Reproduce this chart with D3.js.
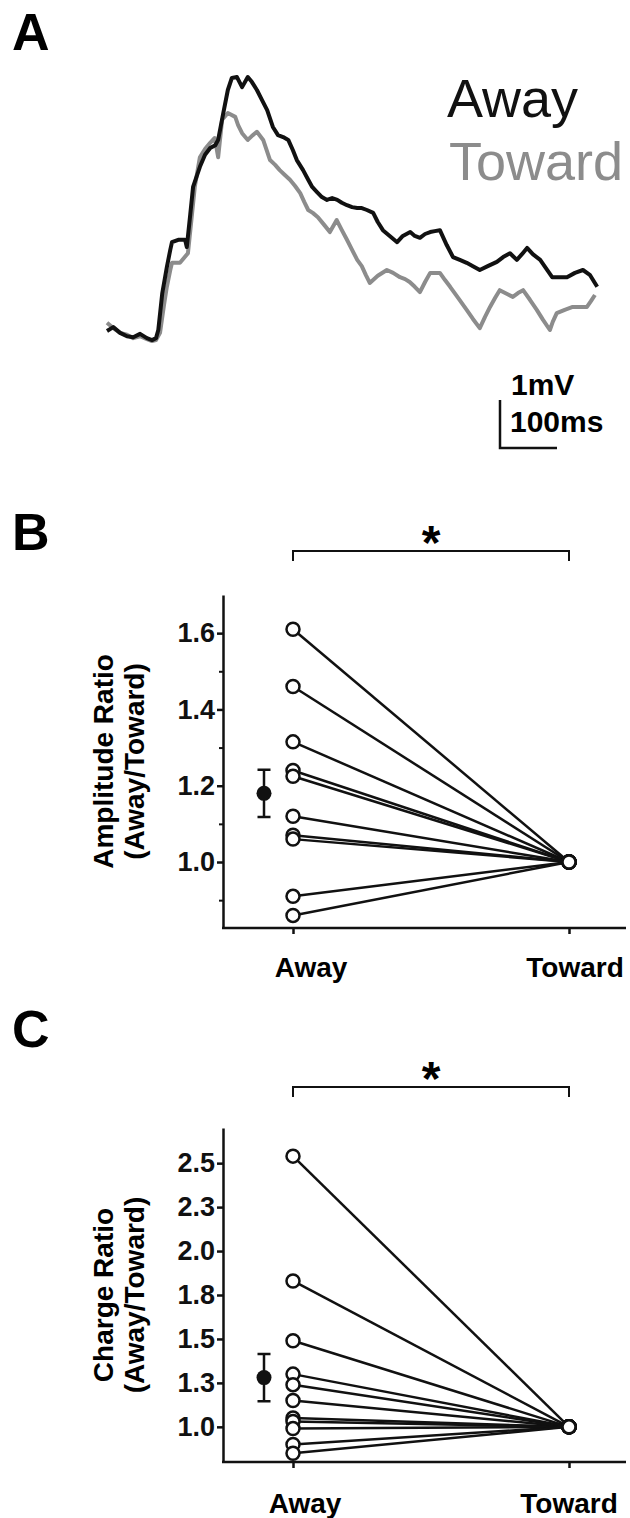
<!DOCTYPE html>
<html>
<head>
<meta charset="utf-8">
<script src="https://cdn.jsdelivr.net/npm/d3@7"></script>
<style>
body { margin: 0; background: #fff; }
svg { display: block; font-family: "Liberation Sans", Arial, sans-serif; }
</style>
</head>
<body>
<script>
// panel A traces: [time (ms), voltage (mV)]
var awayTrace = [[0,-0.02],[11,0.06],[23,-0.06],[35,-0.13],[46,-0.15],[58,-0.08],[70,-0.17],[79,-0.21],[86,-0.17],[90,0],
  [97,0.77],[105,1.31],[111,1.67],[114,1.83],[125,1.88],[137,1.88],[140,1.73],[146,2.4],[151,2.98],[163,3.4],
  [172,3.65],[181,3.79],[190,3.85],[195,3.96],[204,4.52],[212,5.0],[219,5.25],[228,5.27],[237,5.06],[247,5.27],
  [254,5.17],[263,5.0],[272,4.79],[281,4.58],[291,4.23],[300,4.06],[309,4.02],[318,3.96],[326,3.75],[333,3.54],
  [344,3.33],[353,3.13],[360,2.98],[368,2.88],[377,2.77],[386,2.71],[395,2.75],[404,2.71],[412,2.65],[421,2.6],
  [430,2.56],[439,2.54],[447,2.54],[456,2.5],[467,2.44],[475,2.25],[484,2.08],[496,1.96],[509,1.83],[519,1.96],
  [532,2.04],[540,1.96],[549,1.92],[558,2.0],[567,2.04],[575,2.06],[584,2.08],[596,1.77],[607,1.52],[619,1.46],
  [631,1.4],[642,1.33],[654,1.25],[668,1.33],[684,1.42],[695,1.52],[707,1.6],[719,1.46],[728,1.58],[737,1.71],
  [747,1.58],[760,1.46],[770,1.29],[781,1.1],[795,1.1],[807,1.1],[821,1.19],[835,1.25],[847,1.15],[860,0.9]];
var towardTrace = [[0,0.15],[11,0.04],[23,-0.06],[35,-0.1],[46,-0.17],[58,-0.13],[70,-0.19],[79,-0.23],[86,-0.21],[93,-0.06],
  [100,0.52],[105,0.9],[111,1.25],[114,1.4],[121,1.4],[128,1.4],[135,1.5],[142,1.6],[149,2.4],[154,2.98],
  [163,3.6],[172,3.77],[181,3.9],[189,4.0],[195,3.6],[202,4.38],[212,4.52],[225,4.44],[230,4.27],[237,4.1],
  [247,3.96],[254,4.04],[263,4.13],[274,3.96],[286,3.54],[295,3.44],[303,3.33],[312,3.23],[321,3.13],[330,3.0],
  [339,2.85],[346,2.67],[353,2.5],[361,2.44],[370,2.35],[381,2.19],[391,2.04],[403,2.29],[412,2.08],[421,1.88],
  [430,1.67],[439,1.46],[447,1.33],[454,1.15],[461,0.98],[475,1.13],[491,1.25],[502,1.19],[514,1.1],[523,1.06],
  [531,1.0],[540,0.9],[549,0.79],[558,1.0],[567,1.19],[575,1.19],[584,1.19],[593,1.04],[602,0.9],[616,0.67],
  [631,0.42],[642,0.23],[654,0.04],[663,0.27],[672,0.48],[681,0.67],[689,0.83],[702,0.75],[712,0.69],[721,0.77],
  [730,0.83],[742,0.63],[754,0.42],[765,0.21],[777,0.0],[782,0.17],[789,0.35],[803,0.42],[817,0.48],[830,0.48],
  [842,0.48],[849,0.6],[856,0.73]];

// panel B: amplitude ratio
var conditions = ['Away', 'Toward'];
var ampAway = [1.61, 1.46, 1.315, 1.24, 1.225, 1.12, 1.07, 1.06, 0.91, 0.86];
var ampToward = [1, 1, 1, 1, 1, 1, 1, 1, 1, 1];
var ampMean = 1.18, ampSem = 0.062;
var ampTicks = [1.0, 1.2, 1.4, 1.6];
var ampTickLabels = ['1.0', '1.2', '1.4', '1.6'];
var ampMinorTicks = [0.9, 1.1, 1.3, 1.5];

// panel C: charge ratio
var chgAway = [2.54, 1.83, 1.49, 1.30, 1.24, 1.15, 1.05, 1.03, 0.99, 0.90, 0.85];
var chgToward = [1, 1, 1, 1, 1, 1, 1, 1, 1, 1, 1];
var chgMean = 1.28, chgSem = 0.135;
var chgTicks = [1.0, 1.25, 1.5, 1.75, 2.0, 2.25, 2.5];
var chgTickLabels = ['1.0', '1.3', '1.5', '1.8', '2.0', '2.3', '2.5'];

var GRAY = '#8c8c8c';
var svg = d3.select('body').append('svg')
    .attr('width', 630)
    .attr('height', 1518);

// ---- panel A ----
svg.append('text').text('A')
    .attr('x', 12).attr('y', 50)
    .style('font-size', '52px').style('font-weight', 'bold');

var xA = d3.scaleLinear().domain([0, 860]).range([107, 107 + 860 * 0.57]);
var yA = d3.scaleLinear().domain([0, 1]).range([330, 282]);
var traceLine = d3.line()
    .x(function (d) { return xA(d[0]); })
    .y(function (d) { return yA(d[1]); });

svg.append('path').datum(towardTrace)
    .attr('d', traceLine)
    .attr('fill', 'none').attr('stroke', GRAY)
    .attr('stroke-width', 4).attr('stroke-linejoin', 'round');
svg.append('path').datum(awayTrace)
    .attr('d', traceLine)
    .attr('fill', 'none').attr('stroke', '#111')
    .attr('stroke-width', 4).attr('stroke-linejoin', 'round');

svg.append('text').text('Away')
    .attr('x', 447).attr('y', 117)
    .style('font-size', '54px').style('fill', '#111');
svg.append('text').text('Toward')
    .attr('x', 449).attr('y', 180)
    .style('font-size', '54px').style('fill', GRAY);

// scale bar: 1 mV x 100 ms
var sbX = 500, sbY = 448;
var sbW = xA(100) - xA(0), sbH = yA(0) - yA(1);
svg.append('path')
    .attr('d', 'M' + sbX + ',' + (sbY - sbH) + 'V' + sbY + 'H' + (sbX + sbW))
    .attr('fill', 'none').attr('stroke', '#111').attr('stroke-width', 2.5);
svg.append('text').text('1mV')
    .attr('x', 511).attr('y', 395)
    .style('font-size', '30px').style('font-weight', 'bold');
svg.append('text').text('100ms')
    .attr('x', 510).attr('y', 432)
    .style('font-size', '30px').style('font-weight', 'bold');

// ---- panels B and C ----
function drawPanel(p) {
    var g = svg.append('g');
    g.append('text').text(p.letter)
        .attr('x', 12).attr('y', p.letterY)
        .style('font-size', '52px').style('font-weight', 'bold');

    var x = d3.scalePoint().domain(conditions).range([293, 569]);
    var y = d3.scaleLinear().domain(p.domain).range([p.bottom, p.top]);

    var yAxis = d3.axisLeft(y)
        .tickValues(p.ticks)
        .tickFormat(function (d, i) { return p.tickLabels[i]; })
        .tickSize(6).tickSizeOuter(0).tickPadding(2);
    var ya = g.append('g').attr('transform', 'translate(223,0)').call(yAxis);
    ya.selectAll('text')
        .style('font-size', '27px').style('font-weight', 'bold')
        .style('font-family', '"Liberation Sans", Arial, sans-serif').attr('fill', '#111');
    ya.selectAll('line, path').attr('stroke', '#111').attr('stroke-width', 2.5);

    if (p.minor) {
        g.append('g').attr('transform', 'translate(223,0)')
            .call(d3.axisLeft(y).tickValues(p.minor).tickFormat('').tickSize(4).tickSizeOuter(0))
            .call(function (s) { s.select('.domain').remove(); })
            .selectAll('line').attr('stroke', '#111').attr('stroke-width', 2);
    }

    var xa = g.append('g').attr('transform', 'translate(0,' + p.bottom + ')')
        .call(d3.axisBottom(x).tickFormat('').tickSize(6).tickSizeOuter(0));
    xa.select('.domain').remove();
    xa.selectAll('line').attr('stroke', '#111').attr('stroke-width', 2.5);
    g.append('line')
        .attr('x1', 222).attr('x2', 626)
        .attr('y1', p.bottom).attr('y2', p.bottom)
        .attr('stroke', '#111').attr('stroke-width', 2.5);

    conditions.forEach(function (c, i) {
        g.append('text').text(c)
            .attr('x', x(c) + p.labelShift[i]).attr('y', p.labelY)
            .attr('text-anchor', 'middle')
            .style('font-size', '28px').style('font-weight', 'bold');
    });

    var cy = (p.top + p.bottom) / 2;
    g.append('text').text(p.title1)
        .attr('transform', 'translate(113,' + cy + ') rotate(-90)')
        .attr('text-anchor', 'middle')
        .style('font-size', '28px').style('font-weight', 'bold');
    g.append('text').text(p.title2)
        .attr('transform', 'translate(144,' + cy + ') rotate(-90)')
        .attr('text-anchor', 'middle')
        .style('font-size', '28px').style('font-weight', 'bold');

    // paired lines
    g.selectAll('.pair').data(p.away).enter().append('line')
        .attr('class', 'pair')
        .attr('x1', x('Away')).attr('y1', function (d) { return y(d); })
        .attr('x2', x('Toward')).attr('y2', function (d, i) { return y(p.toward[i]); })
        .attr('stroke', '#111').attr('stroke-width', 2.5);

    g.selectAll('.ptAway').data(p.away).enter().append('circle')
        .attr('class', 'ptAway')
        .attr('cx', x('Away')).attr('cy', function (d) { return y(d); })
        .attr('r', 6.5).attr('fill', '#fff').attr('stroke', '#111').attr('stroke-width', 2.5);
    g.selectAll('.ptToward').data(p.toward).enter().append('circle')
        .attr('class', 'ptToward')
        .attr('cx', x('Toward')).attr('cy', function (d) { return y(d); })
        .attr('r', 6.5).attr('fill', '#fff').attr('stroke', '#111').attr('stroke-width', 2.5);

    // mean +- sem
    var mx = x('Away') - 29;
    g.append('path')
        .attr('d', 'M' + (mx - 6.5) + ',' + y(p.mean + p.sem) + 'H' + (mx + 6.5) +
            'M' + mx + ',' + y(p.mean + p.sem) + 'V' + y(p.mean - p.sem) +
            'M' + (mx - 6.5) + ',' + y(p.mean - p.sem) + 'H' + (mx + 6.5))
        .attr('fill', 'none').attr('stroke', '#111').attr('stroke-width', 2.5);
    g.append('circle')
        .attr('cx', mx).attr('cy', y(p.mean)).attr('r', 7.5).attr('fill', '#111');

    // significance bracket
    g.append('path')
        .attr('d', 'M' + x('Away') + ',' + (p.bracketY + 10) + 'V' + p.bracketY +
            'H' + x('Toward') + 'V' + (p.bracketY + 10))
        .attr('fill', 'none').attr('stroke', '#111').attr('stroke-width', 2);
    g.append('text').text('*')
        .attr('x', (x('Away') + x('Toward')) / 2).attr('y', p.bracketY + 8)
        .attr('text-anchor', 'middle')
        .style('font-size', '48px').style('font-weight', 'bold');
}

drawPanel({
    letter: 'B', letterY: 550,
    top: 595, bottom: 928, domain: [0.827, 1.7],
    ticks: ampTicks, tickLabels: ampTickLabels, minor: ampMinorTicks,
    title1: 'Amplitude Ratio', title2: '(Away/Toward)',
    away: ampAway, toward: ampToward, mean: ampMean, sem: ampSem,
    bracketY: 551, labelY: 977, labelShift: [18, 6]
});

drawPanel({
    letter: 'C', letterY: 1047,
    top: 1128, bottom: 1462, domain: [0.8, 2.7],
    ticks: chgTicks, tickLabels: chgTickLabels, minor: null,
    title1: 'Charge Ratio', title2: '(Away/Toward)',
    away: chgAway, toward: chgToward, mean: chgMean, sem: chgSem,
    bracketY: 1087, labelY: 1513, labelShift: [12, 0]
});
</script>
</body>
</html>
